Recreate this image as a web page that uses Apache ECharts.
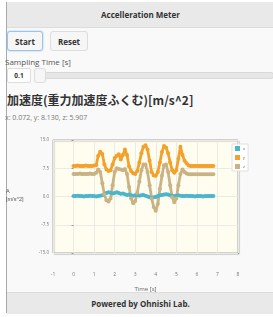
<!DOCTYPE html>
<html>
<head>
<meta charset="utf-8">
<script src="https://cdn.jsdelivr.net/npm/echarts@6/dist/echarts.min.js"></script>
<style>
html,body{margin:0;padding:0;background:#fff;}
body{width:273px;height:317px;position:relative;overflow:hidden;font-family:"Open Sans","Noto Sans CJK JP",sans-serif;}
.page{position:absolute;left:6px;top:2px;width:267px;height:311px;background:#f9f9f9;border-left:1px solid #aaa;}
.header{position:absolute;left:0;top:0;width:100%;height:25px;background:#e9e9e9;border-bottom:1px solid #ddd;
  font-size:8px;font-weight:bold;color:#333;text-align:center;line-height:25px;}
.btn{position:absolute;top:29px;height:20px;line-height:20px;font-size:8px;font-weight:bold;color:#333;text-align:center;
  background:#f6f6f6;border:1px solid #ddd;border-radius:3px;box-sizing:border-box;}
.start{left:0;width:36px;border-color:#9cc3e8;box-shadow:0 0 2px #9cc3e8;}
.reset{left:43px;width:38px;}
.label{position:absolute;left:-2px;top:54px;font-size:8px;color:#555;}
.num{position:absolute;left:0;top:66px;width:24px;height:15px;box-sizing:border-box;background:#fff;border:1px solid #ddd;border-radius:2px;
  font-size:6.5px;font-weight:bold;text-align:center;line-height:13px;color:#333;}
.track{position:absolute;left:27px;top:70px;width:240px;height:7px;background:#e6e6e6;border:1px solid #d8d8d8;border-radius:3px;box-sizing:border-box;}
.handle{position:absolute;left:27px;top:66px;width:12px;height:15px;background:#f6f6f6;border:1px solid #ddd;border-radius:3px;box-sizing:border-box;}
.title{position:absolute;left:0;top:89px;font-size:12px;font-weight:bold;color:#333;white-space:nowrap;font-family:"Noto Sans CJK JP",sans-serif;}
.vals{position:absolute;left:-2px;top:111px;font-size:7px;color:#777;white-space:nowrap;}
.footer{position:absolute;left:0;top:290px;width:100%;height:21px;background:#e9e9e9;border-top:1px solid #ddd;
  font-size:8px;font-weight:bold;color:#333;text-align:center;line-height:21px;}
#chart{position:absolute;left:0;top:130px;width:273px;height:162px;}
</style>
</head>
<body>
<div class="page">
  <div class="header">Accelleration Meter</div>
  <div class="btn start">Start</div>
  <div class="btn reset">Reset</div>
  <div class="label">Sampling Time [s]</div>
  <div class="track"></div>
  <div class="num">0.1</div>
  <div class="handle"></div>
  <div class="title">加速度(重力加速度ふくむ)[m/s^2]</div>
  <div class="vals">x: 0.072, y: 8.130, z: 5.907</div>
  <div class="footer">Powered by Ohnishi Lab.</div>
</div>
<div id="chart"></div>
<script>
// sample times [s]
var times = [0.0,0.1,0.2,0.3,0.4,0.5,0.6,0.7,0.8,0.9,1.0,1.1,1.2,1.3,1.4,1.5,1.6,1.7,1.8,1.9,
  2.0,2.1,2.2,2.3,2.4,2.5,2.6,2.7,2.8,2.9,3.0,3.1,3.2,3.3,3.4,3.5,3.6,3.7,3.8,3.9,
  4.0,4.1,4.2,4.3,4.4,4.5,4.6,4.7,4.8,4.9,5.0,5.1,5.2,5.3,5.4,5.5,5.6,5.7,5.8,5.9,
  6.0,6.1,6.2,6.3,6.4,6.5,6.6,6.7,6.8];
var accX = [0.1,0.1,0.2,0.1,0.1,0.0,0.1,0.1,0.2,0.1,0.1,0.0,0.1,0.2,0.3,0.6,0.9,1.1,1.0,0.8,
  0.9,1.1,0.9,0.7,0.8,0.6,0.4,0.5,0.3,0.2,0.3,0.4,0.2,0.3,0.4,0.2,0.0,-0.2,-0.3,-0.2,
  -0.1,0.1,0.3,0.4,0.5,0.6,0.5,0.3,0.2,0.1,0.2,0.3,0.2,0.1,0.1,0.2,0.1,0.1,0.1,0.0,
  0.1,0.1,0.1,0.0,0.1,0.1,0.1,0.1,0.1];
var accY = [8.1,8.1,8.2,8.1,8.1,8.1,8.2,8.1,8.1,8.1,8.2,8.3,10.8,11.9,11.3,8.5,7.2,6.8,7.0,8.5,
  10.2,10.8,11.2,9.8,11.0,12.5,11.0,8.0,6.8,6.2,6.0,6.8,9.0,11.5,13.2,13.6,12.5,9.5,6.5,5.6,
  5.5,6.5,9.0,11.8,13.4,13.0,11.5,9.0,7.0,6.3,7.0,10.0,13.2,11.0,9.5,8.8,8.2,8.1,8.1,8.1,
  8.1,8.1,8.1,8.1,8.1,8.1,8.1,8.1,8.1];
var accZ = [6.0,6.0,6.0,6.1,6.0,6.0,6.0,6.0,6.1,6.0,6.0,6.3,7.2,6.5,3.5,0.5,-1.0,-1.3,-0.5,3.0,
  6.5,7.5,7.3,7.2,7.0,7.3,6.0,2.5,-0.5,-1.8,-1.2,1.0,4.0,7.0,8.5,8.5,6.5,3.0,-0.5,-2.8,
  -3.8,-2.0,2.0,5.5,8.3,8.5,6.5,3.0,-0.2,-1.5,-0.5,3.0,6.0,7.2,6.5,6.1,5.9,5.9,5.9,5.9,
  5.9,5.9,5.9,5.9,5.9,5.9,5.9,5.9,5.9];
var seriesNames = ['x','y','z'];
var seriesColors = ['#4bb6cb','#f2a22c','#c9b384'];

function pairs(vals){
  return times.map(function(t,i){ return [t, vals[i]]; });
}

var chart = echarts.init(document.getElementById('chart'));
var lineSeries = [accX, accY, accZ].map(function(vals, i){
  return {
    name: seriesNames[i],
    type: 'line',
    data: pairs(vals),
    symbol: 'circle',
    symbolSize: 4,
    lineStyle: {width: 2.8},
    itemStyle: {color: seriesColors[i]},
    animation: false
  };
});

chart.setOption({
  color: seriesColors,
  textStyle: {fontFamily: 'Open Sans'},
  grid: {
    show: true, left: 53, top: 10, width: 185, height: 113,
    outerBoundsMode: 'none',
    backgroundColor: '#fffcf0', borderColor: '#a8a8a8', borderWidth: 1,
    shadowColor: 'rgba(0,0,0,0.25)', shadowBlur: 1, shadowOffsetX: 1, shadowOffsetY: 1
  },
  legend: {
    data: seriesNames, orient: 'vertical', left: 232, top: 14,
    icon: 'rect', itemWidth: 5, itemHeight: 5, itemGap: 4,
    padding: [2, 3], backgroundColor: '#fff', borderColor: '#e0e0e0', borderWidth: 1,
    textStyle: {fontSize: 4, color: '#666', padding: [0, 0, 0, -2]}
  },
  xAxis: {
    type: 'value', min: -1, max: 8, interval: 1,
    axisLine: {show: false}, axisTick: {show: false},
    axisLabel: {fontSize: 5, color: '#777', margin: 19},
    splitLine: {lineStyle: {color: '#ebebe6'}},
    name: 'Time [s]', nameLocation: 'middle', nameGap: 33,
    nameTextStyle: {fontSize: 6, color: '#666'}
  },
  yAxis: {
    type: 'value', min: -15, max: 15, interval: 7.5,
    axisLine: {show: false},
    axisTick: {show: true, length: 2, lineStyle: {color: '#999'}},
    axisLabel: {fontSize: 4.5, color: '#777', margin: 4,
      formatter: function(v){ return v.toFixed(1); }},
    splitLine: {lineStyle: {color: '#ebebe6'}}
  },
  graphic: [
    {type: 'text', left: 6, top: 57, style: {text: 'A\n[m/s^2]', fontSize: 5.5, fill: '#555', lineHeight: 8}}
  ],
  series: lineSeries
});
</script>
</body>
</html>
